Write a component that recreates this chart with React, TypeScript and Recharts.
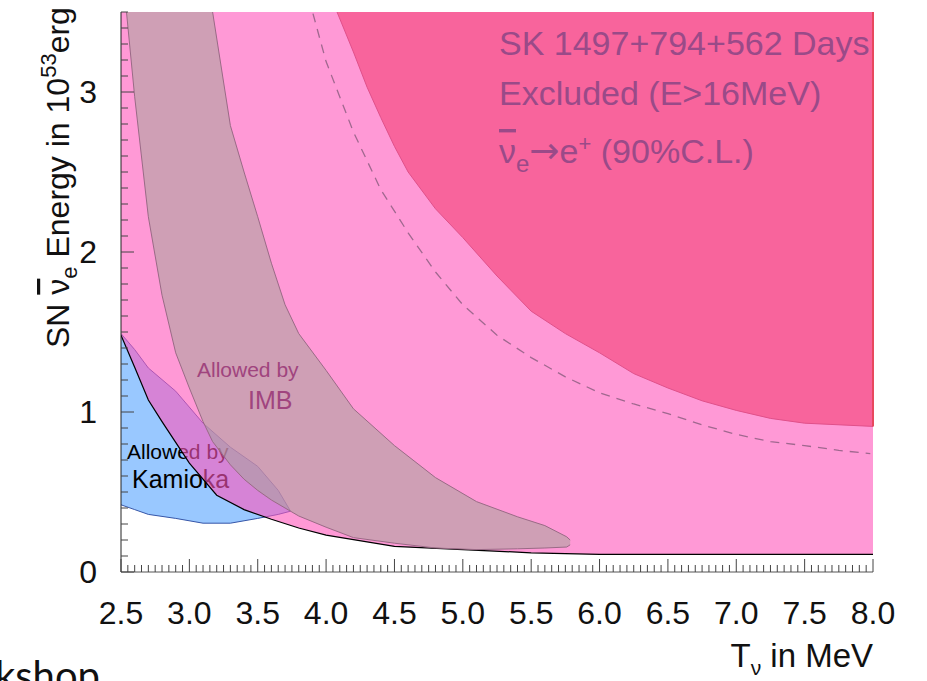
import React from 'react';
import { ComposedChart, Area, Line, XAxis, YAxis, ReferenceLine } from 'recharts';

const FONT = '"Liberation Sans", Arial, Helvetica, sans-serif';
const TICK = '#444';
const W = 927;
const H = 681;
const MARGIN = { top: 12, right: 54, bottom: 0, left: 0 };

// ---- axes ----
const xMajorTicks = [2.5, 3.0, 3.5, 4.0, 4.5, 5.0, 5.5, 6.0, 6.5, 7.0, 7.5, 8.0];
const yMajorTicks = [0, 1, 2, 3];
const X_DOMAIN: [number, number] = [2.5, 8.0];
const Y_DOMAIN: [number, number] = [0, 3.5];
const Y_OVER = 3.6; // region continues above the frame
const xMinorTicks = Array.from({ length: 111 }, (_, i) => Math.round((2.5 + i * 0.05) * 100) / 100);
const yMinorTicks = Array.from({ length: 36 }, (_, i) => Math.round(i * 0.1 * 10) / 10);

// ---- SK excluded region (light), lower boundary ----
const excludedX = [2.5, 2.6, 2.7, 2.8, 2.9, 3.0, 3.2, 3.4, 3.6, 3.8, 4.0, 4.5, 5.0, 5.5, 6.0, 7.0, 8.0];
const excludedLow = [1.48, 1.28, 1.075, 0.94, 0.81, 0.68, 0.48, 0.39, 0.33, 0.275, 0.23, 0.16, 0.14, 0.12, 0.11, 0.11, 0.11];

// ---- SK excluded region (E>16MeV, dark), lower boundary ----
const darkX = [4.08, 4.2, 4.3, 4.4, 4.5, 4.6, 4.8, 5.0, 5.25, 5.5, 5.75, 6.0, 6.25, 6.5, 6.75, 7.0, 7.25, 7.5, 8.0];
const darkLow = [3.5, 3.25, 3.03, 2.84, 2.66, 2.5, 2.27, 2.09, 1.85, 1.63, 1.49, 1.37, 1.24, 1.15, 1.07, 1.01, 0.96, 0.93, 0.91];

// ---- dashed curve ----
const dashX = [3.904, 4.0, 4.2, 4.4, 4.6, 4.8, 5.0, 5.25, 5.5, 5.75, 6.0, 6.25, 6.5, 6.75, 7.0, 7.25, 7.5, 7.75, 7.98];
const dashY = [3.49, 3.19, 2.75, 2.39, 2.12, 1.875, 1.67, 1.48, 1.34, 1.22, 1.12, 1.05, 0.99, 0.92, 0.86, 0.815, 0.79, 0.76, 0.74];

// ---- Kamioka allowed region ----
const kamX = [2.5, 2.6, 2.7, 2.9, 3.1, 3.3, 3.5, 3.65, 3.74];
const kamLow = [0.42, 0.39, 0.36, 0.335, 0.305, 0.305, 0.335, 0.36, 0.38];
const kamHigh = [1.49, 1.39, 1.275, 1.13, 0.93, 0.78, 0.66, 0.51, 0.38];

// ---- IMB allowed region ----
const imbX = [2.54, 2.6, 2.7, 2.8, 2.9, 3.0, 3.1, 3.17, 3.3, 3.4, 3.5, 3.6, 3.7, 3.8, 4.0, 4.2, 4.5, 4.8, 5.1, 5.4, 5.6, 5.76, 5.785];
const imbLow = [3.5, 2.97, 2.22, 1.73, 1.37, 1.15, 0.94, 0.815, 0.67, 0.58, 0.51, 0.45, 0.4, 0.35, 0.28, 0.215, 0.18, 0.15, 0.14, 0.145, 0.15, 0.156, 0.17];
const imbHigh = [Y_OVER, Y_OVER, Y_OVER, Y_OVER, Y_OVER, Y_OVER, Y_OVER, 3.5, 2.79, 2.5, 2.22, 1.93, 1.67, 1.49, 1.26, 1.02, 0.79, 0.59, 0.44, 0.345, 0.29, 0.22, 0.2];

const excludedData = excludedX.map((x, i) => ({ x, y: excludedLow[i] }));
const darkData = darkX.map((x, i) => ({ x, y: darkLow[i] }));
const dashData = dashX.map((x, i) => ({ x, y: dashY[i] }));
const kamData = kamX.map((x, i) => ({ x, band: [kamLow[i], kamHigh[i]] }));
const imbData = imbX.map((x, i) => ({ x, band: [imbLow[i], imbHigh[i]] }));

const isMajor = (v: number, majors: number[]) => majors.some((m) => Math.abs(m - v) < 1e-6);

function BottomTick(props: any) {
  const { x, y, payload } = props;
  const v = payload.value;
  const major = isMajor(v, xMajorTicks);
  return (
    <g>
      <line x1={x} x2={x} y1={y} y2={y - (major ? 13 : 7)} stroke={TICK} strokeWidth={1} />
      {major && (
        <text x={x} y={y + 52} textAnchor="middle" fontFamily={FONT} fontSize={32} fill="#111">
          {v.toFixed(1)}
        </text>
      )}
    </g>
  );
}

function TopTick(props: any) {
  const { x, y, payload } = props;
  const major = isMajor(payload.value, xMajorTicks);
  return <line x1={x} x2={x} y1={y} y2={y + (major ? 13 : 7)} stroke={TICK} strokeWidth={1} />;
}

function LeftTick(props: any) {
  const { x, y, payload } = props;
  const v = payload.value;
  const major = isMajor(v, yMajorTicks);
  return (
    <g>
      <line x1={x} x2={x + (major ? 13 : 7)} y1={y} y2={y} stroke={TICK} strokeWidth={1} />
      {major && (
        <text x={x - 24} y={y + 11} textAnchor="end" fontFamily={FONT} fontSize={32} fill="#111">
          {String(v)}
        </text>
      )}
    </g>
  );
}

function RightTick(props: any) {
  const { x, y, payload } = props;
  const major = isMajor(payload.value, yMajorTicks);
  return <line x1={x} x2={x - (major ? 13 : 7)} y1={y} y2={y} stroke={TICK} strokeWidth={1} />;
}

const layer: React.CSSProperties = { position: 'absolute', left: 0, top: 0, width: W, height: H };

export default function App() {
  return (
    <div style={{ ...layer, background: '#fff', overflow: 'hidden' }}>
      {/* Layer 1: Kamioka allowed region (underneath everything) */}
      <div style={layer}>
        <ComposedChart width={W} height={H} margin={MARGIN}>
          <XAxis xAxisId="b" type="number" dataKey="x" domain={X_DOMAIN} height={109} tick={false} tickLine={false} axisLine={false} allowDataOverflow />
          <YAxis yAxisId="l" type="number" domain={Y_DOMAIN} width={121} tick={false} tickLine={false} axisLine={false} allowDataOverflow />
          <Area
            xAxisId="b"
            yAxisId="l"
            data={kamData}
            dataKey="band"
            type="linear"
            fill="#99c8ff"
            fillOpacity={1}
            stroke="#3656a8"
            strokeWidth={1}
            isAnimationActive={false}
          />
        </ComposedChart>
      </div>

      {/* Layer 2: Kamioka label, covered by the translucent SK region */}
      <svg style={layer} width={W} height={H}>
        <text x={127} y={459} fontFamily={FONT} fontSize={21} fill="#000">Allowed by</text>
        <text x={132} y={488} fontFamily={FONT} fontSize={25} fill="#000">Kamioka</text>
      </svg>

      {/* Layer 3: SK excluded regions, IMB region, frame */}
      <div style={layer}>
        <ComposedChart width={W} height={H} margin={MARGIN}>
          <XAxis
            xAxisId="b"
            type="number"
            dataKey="x"
            domain={X_DOMAIN}
            ticks={xMinorTicks}
            interval={0}
            height={109}
            tickSize={0}
            tickMargin={0}
            tickLine={false}
            tick={<BottomTick />}
            axisLine={{ stroke: '#555' }}
            allowDataOverflow
          />
          <XAxis
            xAxisId="t"
            orientation="top"
            type="number"
            dataKey="x"
            domain={X_DOMAIN}
            ticks={xMinorTicks}
            interval={0}
            height={0}
            tickSize={0}
            tickMargin={0}
            tickLine={false}
            tick={<TopTick />}
            axisLine={{ stroke: '#222' }}
            allowDataOverflow
          />
          <YAxis
            yAxisId="l"
            type="number"
            domain={Y_DOMAIN}
            ticks={yMinorTicks}
            interval={0}
            width={121}
            tickSize={0}
            tickMargin={0}
            tickLine={false}
            tick={<LeftTick />}
            axisLine={{ stroke: '#222' }}
            allowDataOverflow
          />
          <YAxis
            yAxisId="r"
            orientation="right"
            type="number"
            domain={Y_DOMAIN}
            ticks={yMinorTicks}
            interval={0}
            width={0}
            tickSize={0}
            tickMargin={0}
            tickLine={false}
            tick={<RightTick />}
            axisLine={{ stroke: '#444' }}
            allowDataOverflow
          />

          <Area
            xAxisId="b"
            yAxisId="l"
            data={excludedData}
            dataKey="y"
            baseValue="dataMax"
            type="linear"
            fill="#ff55bb"
            fillOpacity={0.6}
            stroke="#000"
            strokeWidth={1.2}
            isAnimationActive={false}
          />
          <Area
            xAxisId="b"
            yAxisId="l"
            data={darkData}
            dataKey="y"
            baseValue="dataMax"
            type="linear"
            fill="#f8649c"
            fillOpacity={1}
            stroke="#e0508a"
            strokeWidth={1}
            isAnimationActive={false}
          />
          <Line
            xAxisId="b"
            yAxisId="l"
            data={dashData}
            dataKey="y"
            type="linear"
            stroke="#a0688f"
            strokeWidth={1.3}
            strokeDasharray="9 7"
            dot={false}
            isAnimationActive={false}
          />
          <Area
            xAxisId="b"
            yAxisId="l"
            data={imbData}
            dataKey="band"
            type="linear"
            fill="#a8a49a"
            fillOpacity={0.55}
            stroke="#9a6a86"
            strokeWidth={1}
            isAnimationActive={false}
          />
          <ReferenceLine
            xAxisId="b"
            yAxisId="l"
            segment={[{ x: 8.0, y: 0.91 }, { x: 8.0, y: 3.5 }]}
            stroke="#e8485e"
            strokeWidth={2}
          />
        </ComposedChart>
      </div>

      {/* Layer 4: annotations and axis titles */}
      <svg style={layer} width={W} height={H}>
        <text x={197} y={377} fontFamily={FONT} fontSize={21} fill="#a0447e">Allowed by</text>
        <text x={248} y={409} fontFamily={FONT} fontSize={25} fill="#a0447e">IMB</text>

        <text x={499} y={55} fontFamily={FONT} fontSize={34} fill="#9a4a88">SK 1497+794+562 Days</text>
        <text x={499} y={105} fontFamily={FONT} fontSize={34} fill="#9a4a88">Excluded (E&gt;16MeV)</text>
        <text x={499} y={163} fontFamily={FONT} fontSize={34} fill="#9a4a88">
          <tspan style={{ textDecoration: 'overline' }}>ν</tspan>
          <tspan dy={9} fontSize={24}>e</tspan>
          <tspan dy={-9} fontFamily='"DejaVu Sans", sans-serif' fontSize={36}>→</tspan>
          <tspan>e</tspan>
          <tspan dy={-12} fontSize={22}>+</tspan>
          <tspan dy={12}> (90%C.L.)</tspan>
        </text>

        <text x={69} y={348} transform="rotate(-90 69 348)" fontFamily={FONT} fontSize={32} fill="#111">
          <tspan>SN </tspan>
          <tspan style={{ textDecoration: 'overline' }}>ν</tspan>
          <tspan dy={8} fontSize={22}>e</tspan>
          <tspan dy={-8}> Energy in 10</tspan>
          <tspan dy={-13} fontSize={22}>53</tspan>
          <tspan dy={13}>erg</tspan>
        </text>

        <text x={873} y={667} textAnchor="end" fontFamily={FONT} fontSize={33} fill="#111">
          <tspan>T</tspan>
          <tspan dy={8} fontSize={21}>ν</tspan>
          <tspan dy={-8}> in MeV</tspan>
        </text>

        <text x={100} y={690} textAnchor="end" fontFamily="Lato, 'Open Sans', sans-serif" fontSize={40} fill="#111">Workshop</text>
      </svg>
    </div>
  );
}
